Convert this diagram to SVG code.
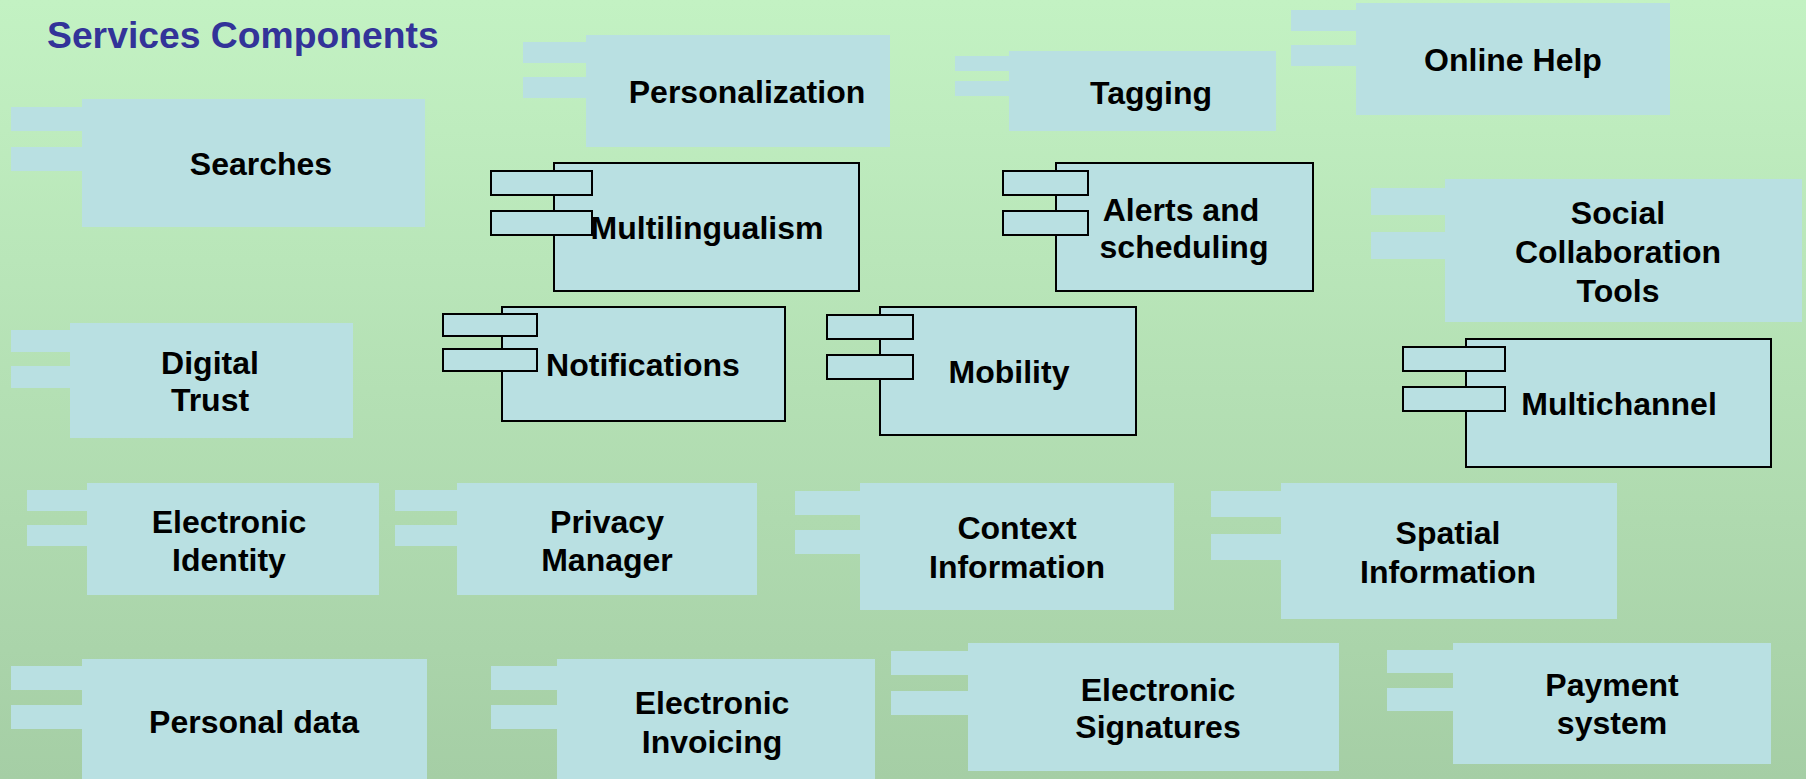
<svg xmlns="http://www.w3.org/2000/svg" width="1806" height="779" viewBox="0 0 1806 779">
<defs>
<linearGradient id="bg" x1="0" y1="0" x2="0" y2="1">
<stop offset="0" stop-color="#c3f2c3"/>
<stop offset="1" stop-color="#a5cea5"/>
</linearGradient>
</defs>
<style>
.b{fill:#b9e0e2}
.s{fill:#b9e0e2;stroke:#000;stroke-width:2}
text{font-family:"Liberation Sans",Arial,sans-serif;font-weight:bold;font-size:32px;fill:#000;text-anchor:middle}
.title{font-size:37.3px;fill:#333399;text-anchor:start}
</style>
<rect x="0" y="0" width="1806" height="779" fill="url(#bg)"/>
<text class="title" x="47" y="48">Services Components</text>
<g id="connectors"></g>

<g id="searches">
<rect class="b" x="11" y="107" width="72" height="24"/>
<rect class="b" x="11" y="147" width="72" height="24"/>
<rect class="b" x="82" y="99" width="343" height="128"/>
<text x="261" y="175">Searches</text>
</g>

<g id="personalization">
<rect class="b" x="523" y="42" width="64" height="21"/>
<rect class="b" x="523" y="77" width="64" height="21"/>
<rect class="b" x="586" y="35" width="304" height="112"/>
<text x="747" y="103">Personalization</text>
</g>

<g id="tagging">
<rect class="b" x="955" y="56" width="55" height="15"/>
<rect class="b" x="955" y="81" width="55" height="15"/>
<rect class="b" x="1009" y="51" width="267" height="80"/>
<text x="1151" y="104">Tagging</text>
</g>

<g id="online-help">
<rect class="b" x="1291" y="10" width="66" height="21"/>
<rect class="b" x="1291" y="45" width="66" height="21"/>
<rect class="b" x="1356" y="3" width="314" height="112"/>
<text x="1513" y="71">Online Help</text>
</g>

<g id="multilingualism">
<rect class="s" x="554" y="163" width="305" height="128"/>
<rect class="s" x="491" y="171" width="101" height="24"/>
<rect class="s" x="491" y="211" width="101" height="24"/>
<text x="707" y="239">Multilingualism</text>
</g>

<g id="alerts">
<rect class="s" x="1056" y="163" width="257" height="128"/>
<rect class="s" x="1003" y="171" width="85" height="24"/>
<rect class="s" x="1003" y="211" width="85" height="24"/>
<text x="1181" y="221">Alerts and</text>
<text x="1184" y="258">scheduling</text>
</g>

<g id="social">
<rect class="b" x="1371" y="188" width="75" height="27"/>
<rect class="b" x="1371" y="232" width="75" height="27"/>
<rect class="b" x="1445" y="179" width="357" height="143"/>
<text x="1618" y="224">Social</text>
<text x="1618" y="263">Collaboration</text>
<text x="1618" y="302">Tools</text>
</g>

<g id="digital-trust">
<rect class="b" x="11" y="330" width="60" height="22"/>
<rect class="b" x="11" y="366" width="60" height="22"/>
<rect class="b" x="70" y="323" width="283" height="115"/>
<text x="210" y="374">Digital</text>
<text x="210" y="411">Trust</text>
</g>

<g id="notifications">
<rect class="s" x="502" y="307" width="283" height="114"/>
<rect class="s" x="443" y="314" width="94" height="22"/>
<rect class="s" x="443" y="349" width="94" height="22"/>
<text x="643" y="376">Notifications</text>
</g>

<g id="mobility">
<rect class="s" x="880" y="307" width="256" height="128"/>
<rect class="s" x="827" y="315" width="86" height="24"/>
<rect class="s" x="827" y="355" width="86" height="24"/>
<text x="1009" y="383">Mobility</text>
</g>

<g id="multichannel">
<rect class="s" x="1466" y="339" width="305" height="128"/>
<rect class="s" x="1403" y="347" width="102" height="24"/>
<rect class="s" x="1403" y="387" width="102" height="24"/>
<text x="1619" y="415">Multichannel</text>
</g>

<g id="electronic-identity">
<rect class="b" x="27" y="490" width="61" height="21"/>
<rect class="b" x="27" y="525" width="61" height="21"/>
<rect class="b" x="87" y="483" width="292" height="112"/>
<text x="229" y="533">Electronic</text>
<text x="229" y="571">Identity</text>
</g>

<g id="privacy-manager">
<rect class="b" x="395" y="490" width="63" height="21"/>
<rect class="b" x="395" y="525" width="63" height="21"/>
<rect class="b" x="457" y="483" width="300" height="112"/>
<text x="607" y="533">Privacy</text>
<text x="607" y="571">Manager</text>
</g>

<g id="context-information">
<rect class="b" x="795" y="491" width="66" height="24"/>
<rect class="b" x="795" y="530" width="66" height="24"/>
<rect class="b" x="860" y="483" width="314" height="127"/>
<text x="1017" y="539">Context</text>
<text x="1017" y="578">Information</text>
</g>

<g id="spatial-information">
<rect class="b" x="1211" y="491" width="71" height="26"/>
<rect class="b" x="1211" y="534" width="71" height="26"/>
<rect class="b" x="1281" y="483" width="336" height="136"/>
<text x="1448" y="544">Spatial</text>
<text x="1448" y="583">Information</text>
</g>

<g id="personal-data">
<rect class="b" x="11" y="666" width="72" height="24"/>
<rect class="b" x="11" y="705" width="72" height="24"/>
<rect class="b" x="82" y="659" width="345" height="120"/>
<text x="254" y="733">Personal data</text>
</g>

<g id="electronic-invoicing">
<rect class="b" x="491" y="666" width="67" height="24"/>
<rect class="b" x="491" y="705" width="67" height="24"/>
<rect class="b" x="557" y="659" width="318" height="120"/>
<text x="712" y="714">Electronic</text>
<text x="712" y="753">Invoicing</text>
</g>

<g id="electronic-signatures">
<rect class="b" x="891" y="651" width="78" height="24"/>
<rect class="b" x="891" y="691" width="78" height="24"/>
<rect class="b" x="968" y="643" width="371" height="128"/>
<text x="1158" y="701">Electronic</text>
<text x="1158" y="738">Signatures</text>
</g>

<g id="payment-system">
<rect class="b" x="1387" y="650" width="67" height="23"/>
<rect class="b" x="1387" y="688" width="67" height="23"/>
<rect class="b" x="1453" y="643" width="318" height="121"/>
<text x="1612" y="696">Payment</text>
<text x="1612" y="734">system</text>
</g>
</svg>
